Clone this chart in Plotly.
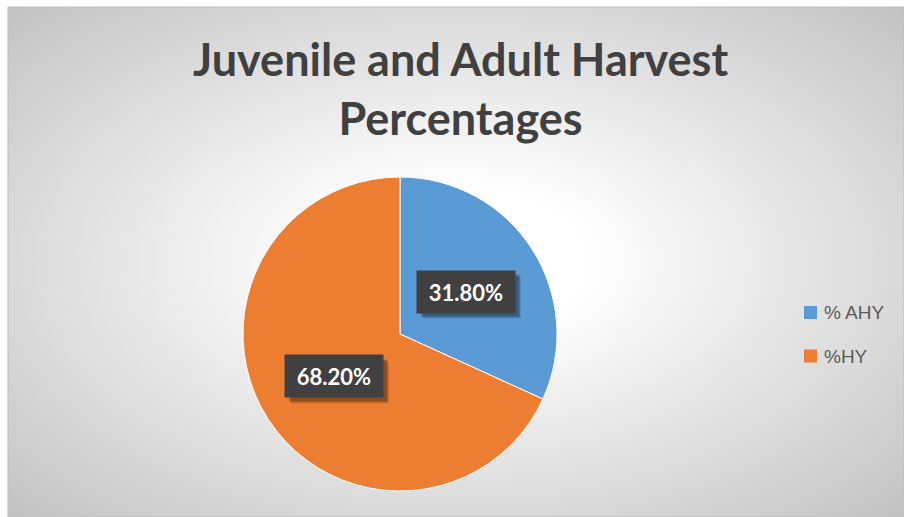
import math, base64
import plotly.graph_objects as go

labels = ["% AHY", "%HY"]
values = [31.8, 68.2]
colors = ["#5B9BD5", "#ED7D31"]
text_labels = ["31.80%", "68.20%"]
title_text = "Juvenile and Adult Harvest<br>Percentages"

W, H = 904, 517
# pie geometry in pixels
PCX, PCY, PR = 400, 334, 157

svg = ('<svg xmlns="http://www.w3.org/2000/svg" width="896" height="510" viewBox="0 0 896 510" preserveAspectRatio="none">'
       '<defs><radialGradient id="g" cx="0.5" cy="0.5" r="0.71">'
       '<stop offset="0" stop-color="#ffffff"/><stop offset="0.2" stop-color="#ffffff"/>'
       '<stop offset="1" stop-color="#c2c2c2"/></radialGradient></defs>'
       '<rect x="0" y="0" width="896" height="510" fill="url(#g)"/></svg>')
bg_uri = "data:image/svg+xml;base64," + base64.b64encode(svg.encode()).decode()

fig = go.Figure()
fig.add_trace(go.Pie(
    labels=labels, values=values, sort=False, direction="clockwise", rotation=0,
    marker=dict(colors=colors, line=dict(color="white", width=1)),
    textinfo="none", hoverinfo="label+percent", showlegend=False,
    domain=dict(x=[(PCX - PR) / W, (PCX + PR) / W], y=[1 - (PCY + PR) / H, 1 - (PCY - PR) / H]),
))

annotations = []
shapes = [dict(type="rect", xref="paper", yref="paper", x0=8 / W, x1=1, y0=0, y1=1 - 7 / H,
               line=dict(color="#bdbdbd", width=1), fillcolor="rgba(0,0,0,0)", layer="below")]

BW, BH = 98, 42
total = sum(values)
cum = 0
for v, t in zip(values, text_labels):
    mid = (cum + v / 2) / total * 2 * math.pi
    cum += v
    px = PCX + 0.5 * PR * math.sin(mid)
    py = PCY - 0.5 * PR * math.cos(mid)
    ax, ay = px / W, 1 - py / H
    # drop shadow
    for k, a in ((6, 0.10), (5, 0.15), (4, 0.2)):
        shapes.append(dict(type="rect", xref="paper", yref="paper", layer="above",
                           x0=(px - BW / 2 + k) / W, x1=(px + BW / 2 + k) / W,
                           y0=1 - (py + BH / 2 + k) / H, y1=1 - (py - BH / 2 + k) / H,
                           fillcolor="rgba(0,0,0,%.2f)" % a, line=dict(width=0)))
    annotations.append(dict(x=ax, y=ay, xref="paper", yref="paper", text="<b>" + t + "</b>", showarrow=False,
                            xanchor="center", yanchor="middle",
                            bgcolor="#404040", width=BW - 8, height=BH - 8, borderpad=4,
                            font=dict(family="Lato", size=22, color="white")))

# manual legend
leg_y = [312.5, 356]
for lab, col, ly in zip(labels, colors, leg_y):
    shapes.append(dict(type="rect", xref="paper", yref="paper", x0=804 / W, x1=817 / W,
                       y0=1 - (ly + 6.5) / H, y1=1 - (ly - 6.5) / H, fillcolor=col, line=dict(width=0)))
    annotations.append(dict(x=822 / W, y=1 - ly / H, xref="paper", yref="paper", text=lab, showarrow=False,
                            xanchor="left", yanchor="middle",
                            font=dict(family="Liberation Sans, Arial", size=19, color="#595959")))

# title
annotations.append(dict(x=460 / W, y=1 - 30 / H, xref="paper", yref="paper", text="<b>" + title_text + "</b>",
                        showarrow=False, xanchor="center", yanchor="top", align="center",
                        font=dict(family="Lato", size=45, color="#404040")))

fig.update_layout(
    width=W, height=H, margin=dict(l=0, r=0, t=0, b=0),
    paper_bgcolor="white", plot_bgcolor="white",
    images=[dict(source=bg_uri, xref="paper", yref="paper", x=8 / W, y=1 - 7 / H,
                 sizex=1 - 8 / W, sizey=1 - 7 / H, sizing="stretch", xanchor="left", yanchor="top",
                 layer="below")],
    shapes=shapes, annotations=annotations,
)

fig.write_html("out.html")
